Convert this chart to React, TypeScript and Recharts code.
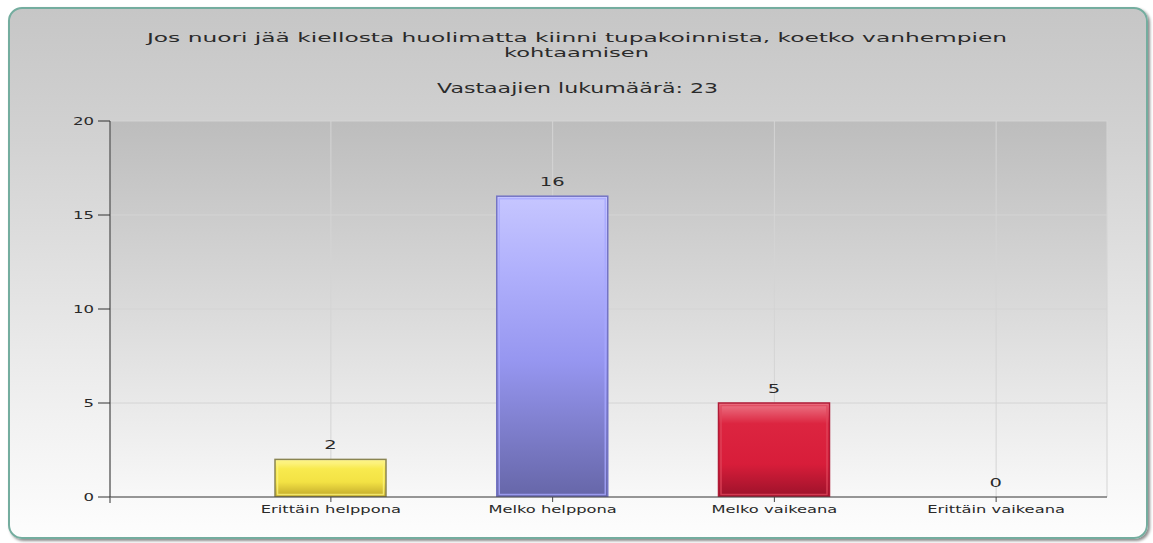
import React from 'react';
import { BarChart, Bar, XAxis, YAxis, CartesianGrid, LabelList } from 'recharts';

const titleLine1 = 'Jos nuori jää kiellosta huolimatta kiinni tupakoinnista, koetko vanhempien';
const titleLine2 = 'kohtaamisen';
const subtitle = 'Vastaajien lukumäärä: 23';

const categories = ['Erittäin helppona', 'Melko helppona', 'Melko vaikeana', 'Erittäin vaikeana'];
const counts = [2, 16, 5, 0];
const yTicks = [0, 5, 10, 15, 20];

const palette = [
  {
    id: 'gYellow', outer: '#8a8552', inner: '#fbf27c',
    stops: [['0%', '#fff79a'], ['25%', '#f8ea4e'], ['60%', '#f3e244'], ['100%', '#bfa62a']],
  },
  {
    id: 'gBlue', outer: '#7474c4', inner: '#a8a8ff',
    stops: [['0%', '#c6c6ff'], ['25%', '#b0b0fc'], ['55%', '#9696f0'], ['100%', '#6666a8']],
  },
  {
    id: 'gRed', outer: '#b01a36', inner: '#e0465c',
    stops: [['0%', '#ec7888'], ['22%', '#dc2540'], ['65%', '#d81d3a'], ['100%', '#9c122a']],
  },
  {
    id: 'gRed', outer: '#b01a36', inner: '#e0465c',
    stops: [['0%', '#ec7888'], ['22%', '#dc2540'], ['65%', '#d81d3a'], ['100%', '#9c122a']],
  },
];

const data = categories.map((name, i) => ({ name, value: counts[i], idx: i }));

const FONT = '"DejaVu Sans", Verdana, sans-serif';
const TXT = '#2a2a2a';

const BarShape = (props: any) => {
  const { x, y, width, height, payload } = props;
  if (!height || height <= 0) return <g />;
  const c = palette[payload.idx];
  return (
    <g>
      <rect x={x} y={y} width={width} height={height} fill={`url(#${c.id})`} stroke={c.outer} strokeWidth={1.5} />
      {height > 6 && (
        <rect x={x + 2.5} y={y + 2.5} width={width - 5} height={height - 5} fill="none" stroke={c.inner} strokeWidth={1.5} opacity={0.8} />
      )}
    </g>
  );
};

const YTick = (props: any) => {
  const { x, y, payload } = props;
  return (
    <text transform={`translate(${x},${y}) scale(1.65,1)`} textAnchor="end" dy="0.35em" fontSize={10} fontFamily={FONT} fill={TXT}>
      {payload.value}
    </text>
  );
};

const XTick = (props: any) => {
  const { x, y, payload } = props;
  return (
    <text transform={`translate(${x},${y + 9}) scale(1.63,1)`} textAnchor="middle" fontSize={10} fontFamily={FONT} fill={TXT}>
      {payload.value}
    </text>
  );
};

const ValueLabel = (props: any) => {
  const { x, y, width, value } = props;
  return (
    <text transform={`translate(${x + width / 2},${y - 10}) scale(1.5,1)`} textAnchor="middle" fontSize={13} fontFamily={FONT} fill={TXT}>
      {value}
    </text>
  );
};

export default function App() {
  return (
    <div style={{ position: 'absolute', left: 0, top: 0, width: 1153, height: 543, background: '#fff' }}>
      <div
        style={{
          position: 'absolute',
          left: 8,
          top: 7,
          width: 1136,
          height: 528,
          border: '2px solid #74ad9f',
          borderRadius: 14,
          background: 'linear-gradient(to bottom, #c6c6c6 0%, #d2d2d2 25%, #f0f0f0 75%, #fdfdfd 100%)',
          boxShadow: '2px 2px 3px rgba(0,0,0,0.45)',
        }}
      />
      <svg width={1153} height={543} style={{ position: 'absolute', left: 0, top: 0 }}>
        <defs>
          <linearGradient id="plotGrad" x1="0" y1="0" x2="0" y2="1">
            <stop offset="0%" stopColor="#bdbdbd" />
            <stop offset="50%" stopColor="#dadada" />
            <stop offset="100%" stopColor="#f8f8f8" />
          </linearGradient>
          {palette.slice(0, 3).map((c) => (
            <linearGradient key={c.id} id={c.id} x1="0" y1="0" x2="0" y2="1">
              {c.stops.map(([o, col]) => (
                <stop key={o} offset={o} stopColor={col} />
              ))}
            </linearGradient>
          ))}
        </defs>
        <text x={147} y={42} fontSize={13} fontFamily={FONT} fill={TXT} textLength={860} lengthAdjust="spacingAndGlyphs">
          {titleLine1}
        </text>
        <text x={504} y={57} fontSize={13} fontFamily={FONT} fill={TXT} textLength={145} lengthAdjust="spacingAndGlyphs">
          {titleLine2}
        </text>
        <text x={437} y={93} fontSize={14} fontFamily={FONT} fill={TXT} textLength={281} lengthAdjust="spacingAndGlyphs">
          {subtitle}
        </text>
        <line x1={110} y1={497} x2={110} y2={503} stroke="#333" />
      </svg>
      <div style={{ position: 'absolute', left: 0, top: 0 }}>
        <BarChart width={1153} height={543} data={data} margin={{ top: 121, right: 46, bottom: 16, left: 50 }}>
          <CartesianGrid fill="url(#plotGrad)" stroke="#d4d4d4" />
          <XAxis
            dataKey="name"
            type="category"
            padding={{ left: 110, right: 0 }}
            interval={0}
            height={30}
            tickSize={5}
            tickMargin={2}
            stroke="#444"
            tick={<XTick />}
          />
          <YAxis
            type="number"
            domain={[0, 20]}
            allowDataOverflow={true}
            ticks={yTicks}
            width={60}
            tickSize={12}
            tickMargin={4}
            stroke="#333"
            tick={<YTick />}
          />
          <Bar dataKey="value" barSize={111} isAnimationActive={false} shape={<BarShape />}>
            <LabelList dataKey="value" content={<ValueLabel />} />
          </Bar>
        </BarChart>
      </div>
    </div>
  );
}
